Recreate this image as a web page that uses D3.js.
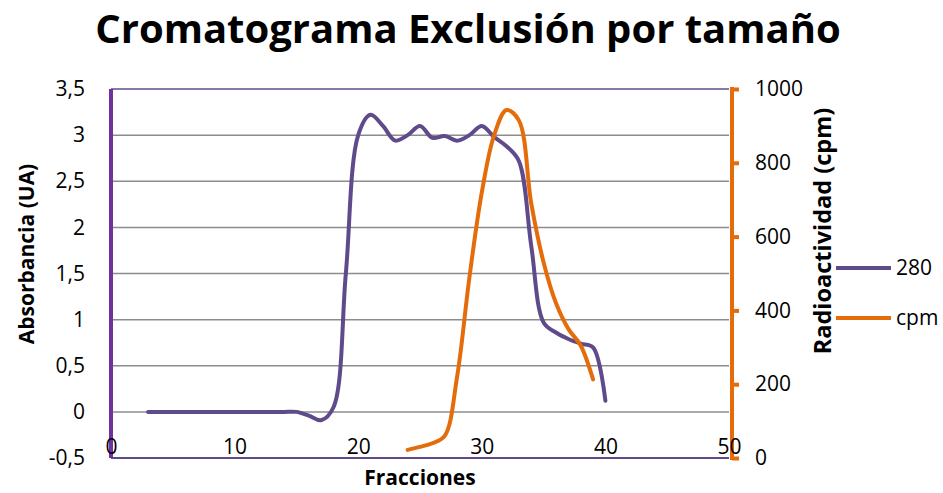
<!DOCTYPE html>
<html>
<head>
<meta charset="utf-8">
<script src="https://cdn.jsdelivr.net/npm/d3@7"></script>
<style>
  html, body { margin: 0; padding: 0; background: #fff; }
  svg { display: block; }
  text { font-family: "Open Sans", "Noto Sans", sans-serif; fill: #000; }
</style>
</head>
<body>
<svg id="chart" width="943" height="493"></svg>
<script>
// Absorbancia a 280 nm por fracción
const fractions280 = [3,4,5,6,7,8,9,10,11,12,13,14,15,16,17,18,19,20,21,22,23,24,25,26,27,28,29,30,31,32,33,34,35,36,37,38,39,40];
const abs280 = [0,0,0,0,0,0,0,0,0,0,0,0,0,-0.04,-0.09,0.05,1.5,3.0,3.22,3.1,2.94,3.0,3.1,2.97,2.99,2.94,3.0,3.1,2.98,2.88,2.72,1.8,0.97,0.86,0.79,0.74,0.70,0.12];

// Radioactividad (cpm) por fracción
const fractionsCpm = [24,25,26,27,28,29,30,31,32,33,34,35,36,37,38,39];
const cpm = [22,30,40,60,220,490,720,875,943,915,690,530,420,350,305,213];

// Marcas de los ejes
const xTicks = [0,10,20,30,40,50];
const leftTicks = [-0.5,0,0.5,1,1.5,2,2.5,3,3.5];
const rightTicks = [0,200,400,600,800,1000];
const seriesNames = ["280","cpm"];

const purple = "#5f4b8b";
const axisPurple = "#7030a0";
const orange = "#e46c0a";
const grid = "#8c8c8c";

const svg = d3.select("#chart");
const L = 111, R = 729, T = 89, B = 458;

const x = d3.scaleLinear().domain([0,50]).range([L,R]);
const yL = d3.scaleLinear().domain([-0.5,3.5]).range([B,T]);
const yR = d3.scaleLinear().domain([0,1000]).range([B,T]);

const locale = d3.formatLocale({decimal: ",", thousands: ".", grouping: [3], currency: ["","€"]});
const fmt = v => locale.format("")(v).replace("−","-");
const tickFont = "21px";

// Título
svg.append("text")
  .attr("x", 468).attr("y", 43)
  .attr("text-anchor", "middle")
  .style("font-size", "40px").style("font-weight", "700")
  .text("Cromatograma Exclusión por tamaño");

// Líneas de cuadrícula
svg.append("g").selectAll("line")
  .data(leftTicks.filter(v => v >= 0 && v < 3.5))
  .join("line")
  .attr("x1", L).attr("x2", R)
  .attr("y1", d => yL(d)).attr("y2", d => yL(d))
  .attr("stroke", grid).attr("stroke-width", 1.5);

// Bordes superior e inferior del área de trazado
svg.append("line").attr("x1", L).attr("x2", R).attr("y1", T).attr("y2", T)
  .attr("stroke", purple).attr("stroke-width", 1.5);
svg.append("line").attr("x1", L).attr("x2", R).attr("y1", B).attr("y2", B)
  .attr("stroke", purple).attr("stroke-width", 2);

// Eje izquierdo (absorbancia)
const gLeft = svg.append("g").attr("transform", `translate(${L},0)`)
  .call(d3.axisLeft(yL).tickValues(leftTicks).tickSize(0).tickPadding(26).tickFormat(fmt));
gLeft.select(".domain").remove();
gLeft.append("line").attr("x1", 0).attr("x2", 0).attr("y1", T).attr("y2", B)
  .attr("stroke", axisPurple).attr("stroke-width", 4);
gLeft.selectAll(".tick text").style("font-size", tickFont).attr("fill", "#000");

// Eje derecho (cpm)
const gRight = svg.append("g").attr("transform", `translate(732,0)`)
  .call(d3.axisRight(yR).tickValues(rightTicks).tickSize(7).tickPadding(16).tickFormat(d3.format("d")));
gRight.select(".domain").remove();
gRight.append("line").attr("x1", 0).attr("x2", 0).attr("y1", T - 2).attr("y2", B + 2)
  .attr("stroke", orange).attr("stroke-width", 4);
gRight.selectAll(".tick line").attr("stroke", orange).attr("stroke-width", 4);
gRight.selectAll(".tick text").style("font-size", tickFont).attr("fill", "#000");

// Eje horizontal (fracciones)
const gX = svg.append("g").attr("transform", `translate(0,${B})`)
  .call(d3.axisTop(x).tickValues(xTicks).tickSize(0).tickPadding(4).tickFormat(d3.format("d")));
gX.select(".domain").remove();
gX.selectAll(".tick text").style("font-size", tickFont).attr("fill", "#000");

// Curvas suavizadas
const line280 = d3.line()
  .x((d, i) => x(fractions280[i]))
  .y(d => yL(d))
  .curve(d3.curveCatmullRom.alpha(0.5));
const lineCpm = d3.line()
  .x((d, i) => x(fractionsCpm[i]))
  .y(d => yR(d))
  .curve(d3.curveCatmullRom.alpha(0.5));

svg.append("path").datum(abs280).attr("d", line280)
  .attr("fill", "none").attr("stroke", purple).attr("stroke-width", 4)
  .attr("stroke-linejoin", "round").attr("stroke-linecap", "round");
svg.append("path").datum(cpm).attr("d", lineCpm)
  .attr("fill", "none").attr("stroke", orange).attr("stroke-width", 4)
  .attr("stroke-linejoin", "round").attr("stroke-linecap", "round");

// Títulos de ejes
svg.append("text")
  .attr("transform", "translate(34,254) rotate(-90)")
  .attr("text-anchor", "middle")
  .style("font-size", "21px").style("font-weight", "700")
  .text("Absorbancia (UA)");
svg.append("text")
  .attr("transform", "translate(831,231) rotate(-90)")
  .attr("text-anchor", "middle")
  .style("font-size", "23.5px").style("font-weight", "700")
  .text("Radioactividad (cpm)");
svg.append("text")
  .attr("x", 420).attr("y", 485)
  .attr("text-anchor", "middle")
  .style("font-size", "21px").style("font-weight", "700")
  .text("Fracciones");

// Leyenda
const legend = svg.append("g");
const legendColors = [purple, orange];
const legendY = [268, 318];
seriesNames.forEach((name, i) => {
  legend.append("line")
    .attr("x1", 836).attr("x2", 891)
    .attr("y1", legendY[i]).attr("y2", legendY[i])
    .attr("stroke", legendColors[i]).attr("stroke-width", 4);
  legend.append("text")
    .attr("x", 896).attr("y", legendY[i])
    .attr("dy", "0.35em")
    .style("font-size", tickFont)
    .text(name);
});
</script>
</body>
</html>
